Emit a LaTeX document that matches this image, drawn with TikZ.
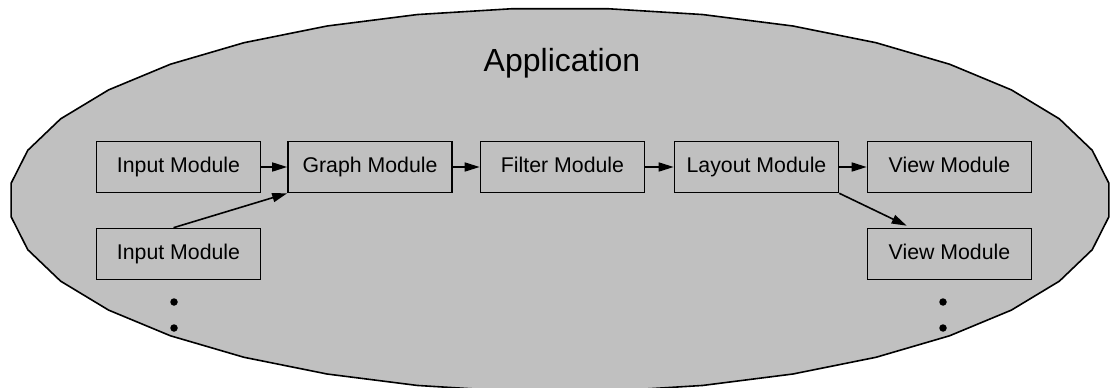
\documentclass[tikz,border=0pt]{standalone}
\usepackage{fontspec}
\setmainfont{Liberation Sans}
\usetikzlibrary{arrows.meta,calc}
\definecolor{appgray}{HTML}{C0C0C0}
\tikzset{
  modbox/.style={draw=black, line width=1.6pt, fill=appgray, minimum width=164pt, minimum height=51pt, inner sep=0pt, text height=15.5pt, text depth=4.5pt, font=\fontsize{21.3}{25}\selectfont},
  conn/.style={line width=1.6pt, -{Triangle[length=15pt,width=9pt]}},
  dotmark/.style={circle, fill=black, inner sep=0pt, minimum size=7.5pt},
}
\begin{document}
\begin{tikzpicture}[x=1pt,y=-1pt]
\useasboundingbox (0,0) rectangle (1112,388);
\clip (0,0) rectangle (1112,388);
\draw[line width=1.6pt, fill=appgray] plot[samples=37, domain=5:365] ({560+551*cos(\x)},{200+192*sin(\x)}) -- cycle;
\node[anchor=base, font=\fontsize{32}{38}\selectfont] (title) at (562,71) {Application};
\node[modbox] (in1) at (178.5,167) {Input Module};
\node[modbox] (graph) at (370,167) {Graph Module};
\node[modbox] (filter) at (562.5,167) {Filter Module};
\node[modbox] (layout) at (756.5,167) {Layout Module};
\node[modbox] (view1) at (949.5,167) {View Module};
\node[modbox] (in2) at (178.5,254) {Input Module};
\node[modbox] (view2) at (949.5,254) {View Module};
\coordinate (in2top) at ($(in2.north)+(-5,0)$);
\coordinate (view2top) at ($(view2.north west)+(40,-2)$);
\draw[conn] (in1.east) -- (graph.west);
\draw[conn] (graph.east) -- (filter.west);
\draw[conn] (filter.east) -- (layout.west);
\draw[conn] (layout.east) -- (view1.west);
\draw[conn] (in2top) -- (graph.south west);
\draw[conn] (layout.south east) -- (view2top);
\node[dotmark] (d1) at (174,302) {};
\node[dotmark] (d2) at (174,328) {};
\node[dotmark] (d3) at (943,302) {};
\node[dotmark] (d4) at (943,328) {};
\end{tikzpicture}
\end{document}
